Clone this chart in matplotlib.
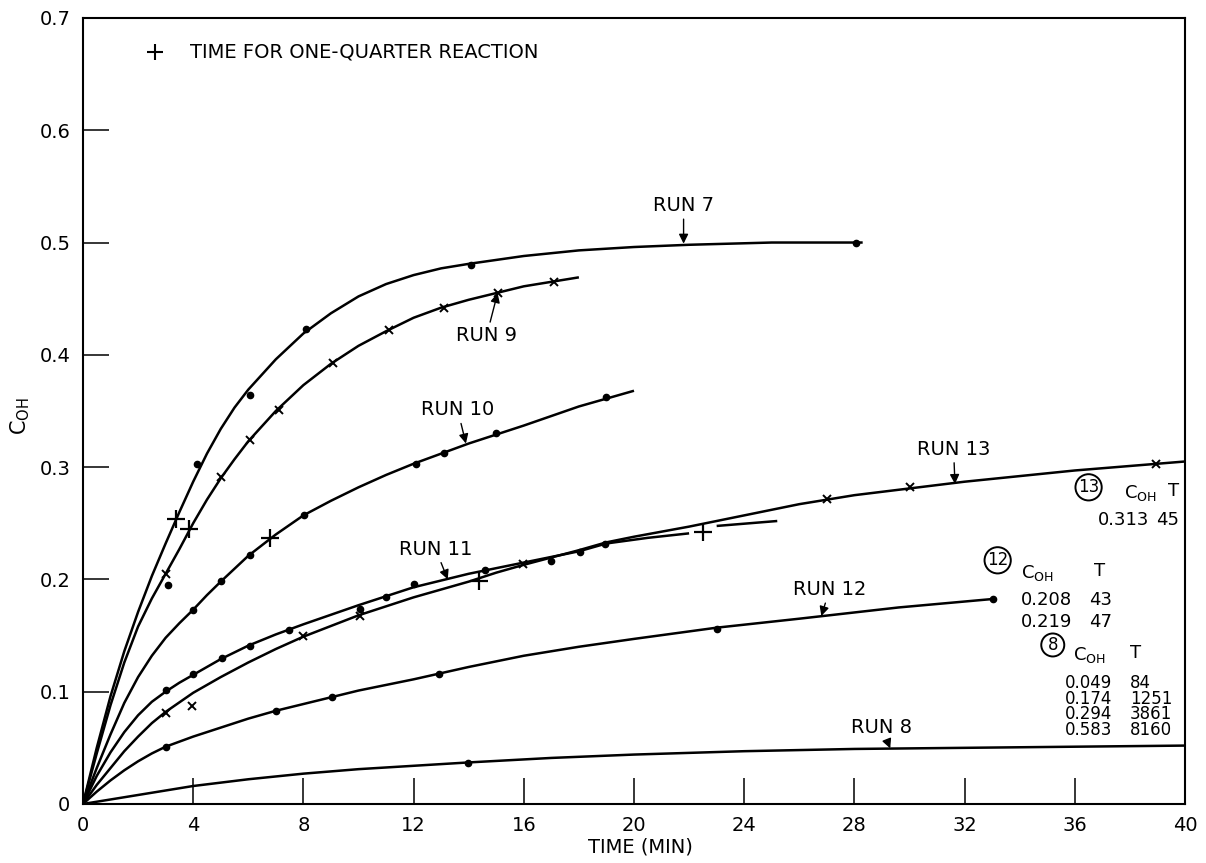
import numpy as np
import matplotlib.pyplot as plt

# curves (time in min, C_OH)
run7_x = [0, 0.5, 1, 1.5, 2, 2.5, 3, 3.5, 4, 4.5, 5, 5.5, 6, 7, 8, 9, 10, 11, 12, 13, 14, 16, 18, 20, 22, 25, 28.3]
run7_y = [0, 0.050, 0.096, 0.136, 0.171, 0.203, 0.232, 0.260, 0.287, 0.312, 0.334, 0.353, 0.369, 0.396, 0.419, 0.437,
          0.452, 0.463, 0.471, 0.477, 0.481, 0.488, 0.493, 0.496, 0.498, 0.500, 0.500]
run9_x = [0, 0.5, 1, 1.5, 2, 2.5, 3, 3.5, 4, 4.5, 5, 5.5, 6, 7, 8, 9, 10, 11, 12, 13, 14, 15, 16, 17, 18]
run9_y = [0, 0.045, 0.088, 0.126, 0.158, 0.183, 0.205, 0.227, 0.250, 0.271, 0.290, 0.307, 0.323, 0.350, 0.373,
          0.392, 0.408, 0.421, 0.433, 0.442, 0.449, 0.455, 0.461, 0.465, 0.469]
run10_x = [0, 0.5, 1, 1.5, 2, 2.5, 3, 3.5, 4, 4.5, 5, 6, 7, 8, 9, 10, 11, 12, 14, 16, 18, 20]
run10_y = [0, 0.032, 0.062, 0.090, 0.113, 0.132, 0.148, 0.161, 0.173, 0.186, 0.198, 0.221, 0.240, 0.257, 0.270,
           0.282, 0.293, 0.303, 0.321, 0.337, 0.354, 0.368]
run11_x = [0, 0.5, 1, 1.5, 2, 2.5, 3, 3.5, 4, 5, 6, 7, 8, 10, 12, 14, 16, 18, 19]
run11_y = [0, 0.025, 0.046, 0.064, 0.079, 0.091, 0.100, 0.108, 0.115, 0.129, 0.141, 0.151, 0.160, 0.177, 0.193,
           0.205, 0.215, 0.225, 0.232]
run11_ext_x = [19, 20.5, 22.0, np.nan, 23.0, 25.2]
run11_ext_y = [0.232, 0.237, 0.241, np.nan, 0.2476, 0.252]
run13_x = [0, 0.5, 1, 1.5, 2, 2.5, 3, 4, 5, 6, 7, 8, 10, 12, 14, 15, 16, 18, 19, 20, 22, 24, 26, 28, 30, 32, 34,
           36, 38, 40]
run13_y = [0, 0.017, 0.032, 0.047, 0.060, 0.072, 0.082, 0.099, 0.113, 0.126, 0.138, 0.149, 0.168, 0.184, 0.198,
           0.206, 0.213, 0.226, 0.233, 0.238, 0.247, 0.257, 0.267, 0.275, 0.281, 0.287, 0.292, 0.297, 0.301, 0.305]
run12_x = [0, 0.5, 1, 1.5, 2, 2.5, 3, 4, 5, 6, 7, 8, 10, 12, 14, 16, 18, 20, 23, 26, 29.6, 33]
run12_y = [0, 0.011, 0.021, 0.030, 0.038, 0.045, 0.051, 0.060, 0.068, 0.076, 0.083, 0.089, 0.101, 0.111, 0.122,
           0.132, 0.140, 0.147, 0.157, 0.165, 0.175, 0.1825]
run8_x = [0, 2, 4, 6, 8, 10, 12, 14, 17, 20, 24, 28, 32, 36, 40]
run8_y = [0, 0.008, 0.016, 0.022, 0.027, 0.031, 0.034, 0.037, 0.041, 0.044, 0.047, 0.049, 0.050, 0.051, 0.052]

# measured points
run7_px = [3.07, 4.14, 6.07, 8.1, 14.08, 28.05]
run7_py = [0.195, 0.303, 0.364, 0.423, 0.480, 0.4993]
run9_px = [3.02, 5.02, 6.05, 7.1, 9.07, 11.1, 13.1, 15.05, 17.08]
run9_py = [0.205, 0.291, 0.324, 0.351, 0.393, 0.422, 0.442, 0.455, 0.465]
run10_px = [4.0, 5.02, 6.05, 8.04, 12.07, 13.1, 15.0, 19.0]
run10_py = [0.173, 0.1986, 0.222, 0.257, 0.303, 0.313, 0.330, 0.362]
run11_px = [3.03, 4.0, 5.05, 6.07, 7.46, 10.04, 11.0, 12.0, 14.6, 17.0, 18.04, 18.95]
run11_py = [0.1015, 0.1155, 0.130, 0.141, 0.155, 0.174, 0.184, 0.196, 0.208, 0.2164, 0.224, 0.2315]
run13_px = [3.0, 3.97, 7.98, 10.04, 15.98, 27.0, 30.0, 38.96]
run13_py = [0.0808, 0.087, 0.150, 0.1676, 0.2137, 0.2716, 0.282, 0.303]
run12_px = [3.0, 6.99, 9.03, 12.93, 23.0, 33.04]
run12_py = [0.051, 0.0828, 0.095, 0.1155, 0.1558, 0.1825]
run8_px = [13.96]
run8_py = [0.0362]

# time for one-quarter reaction
quarter_x = [3.39, 3.85, 6.8, 14.38, 22.5]
quarter_y = [0.254, 0.245, 0.2365, 0.199, 0.2425]

# run labels: (text, text x, text y, arrow tip x, arrow tip y)
run_labels = [
    ('RUN 7', 21.8, 0.533, 21.8, 0.499),
    ('RUN 9', 14.65, 0.417, 15.05, 0.455),
    ('RUN 10', 13.6, 0.351, 13.9, 0.321),
    ('RUN 11', 12.8, 0.227, 13.24, 0.200),
    ('RUN 12', 27.1, 0.191, 26.8, 0.1674),
    ('RUN 13', 31.6, 0.316, 31.65, 0.285),
    ('RUN 8', 29.0, 0.068, 29.3, 0.0495),
]

# long-time values
run13_tab_c = ['0.313']
run13_tab_t = ['45']
run12_tab_c = ['0.208', '0.219']
run12_tab_t = ['43', '47']
run8_tab_c = ['0.049', '0.174', '0.294', '0.583']
run8_tab_t = ['84', '1251', '3861', '8160']

x_ticks = [0, 4, 8, 12, 16, 20, 24, 28, 32, 36, 40]
y_ticks = [0, 0.1, 0.2, 0.3, 0.4, 0.5, 0.6, 0.7]
y_tick_labels = ['0', '0.1', '0.2', '0.3', '0.4', '0.5', '0.6', '0.7']

plt.rcParams['font.family'] = ['DejaVu Sans']

fig = plt.figure(figsize=(12.06, 8.63), dpi=100)
ax = fig.add_axes([0.0688, 0.0684, 0.9138, 0.9108])

lw = 1.8
for xs, ys in [(run7_x, run7_y), (run9_x, run9_y), (run10_x, run10_y), (run11_x, run11_y),
               (run11_ext_x, run11_ext_y), (run13_x, run13_y), (run12_x, run12_y), (run8_x, run8_y)]:
    ax.plot(xs, ys, color='black', lw=lw, solid_capstyle='butt', solid_joinstyle='round')

for xs, ys in [(run7_px, run7_py), (run10_px, run10_py), (run11_px, run11_py),
               (run12_px, run12_py), (run8_px, run8_py)]:
    ax.plot(xs, ys, 'o', color='black', ms=4.5, ls='none')
for xs, ys in [(run9_px, run9_py), (run13_px, run13_py)]:
    ax.plot(xs, ys, 'x', color='black', ms=5.5, mew=1.4, ls='none')
ax.plot(quarter_x, quarter_y, '+', color='black', ms=13, mew=1.6, ls='none')

# key
ax.plot([2.6], [0.67], '+', color='black', ms=12, mew=1.5)
ax.text(3.9, 0.67, 'TIME FOR ONE-QUARTER REACTION', fontsize=14, va='center', ha='left')

for txt, tx, ty, px, py in run_labels:
    ax.annotate(txt, xy=(px, py), xytext=(tx, ty), fontsize=14, ha='center', va='center',
                arrowprops=dict(arrowstyle='-|>', color='black', lw=1.0, mutation_scale=14,
                                shrinkA=1, shrinkB=0))

# tables of long-time values
circ = dict(boxstyle='circle,pad=0.15', fc='white', ec='black', lw=1.4)
coh = r'C$_{\mathrm{OH}}$'

ax.text(36.5, 0.282, '13', fontsize=12, ha='center', va='center', bbox=circ)
ax.text(37.8, 0.2765, coh, fontsize=13, ha='left', va='center')
ax.text(39.6, 0.2785, 'T', fontsize=13, ha='center', va='center')
for i, (c, t) in enumerate(zip(run13_tab_c, run13_tab_t)):
    ax.text(36.85, 0.253 - i * 0.019, c, fontsize=13, ha='left', va='center')
    ax.text(38.95, 0.253 - i * 0.019, t, fontsize=13, ha='left', va='center')

ax.text(33.2, 0.217, '12', fontsize=12, ha='center', va='center', bbox=circ)
ax.text(34.05, 0.2057, coh, fontsize=13, ha='left', va='center')
ax.text(36.9, 0.2077, 'T', fontsize=13, ha='center', va='center')
for i, (c, t) in enumerate(zip(run12_tab_c, run12_tab_t)):
    ax.text(34.05, 0.1817 - i * 0.0193, c, fontsize=13, ha='left', va='center')
    ax.text(36.5, 0.1817 - i * 0.0193, t, fontsize=13, ha='left', va='center')

ax.text(35.2, 0.1416, '8', fontsize=12, ha='center', va='center', bbox=circ)
ax.text(35.95, 0.1327, coh, fontsize=13, ha='left', va='center')
ax.text(38.2, 0.1347, 'T', fontsize=13, ha='center', va='center')
for i, (c, t) in enumerate(zip(run8_tab_c, run8_tab_t)):
    ax.text(35.64, 0.1075 - i * 0.0139, c, fontsize=12, ha='left', va='center')
    ax.text(37.99, 0.1075 - i * 0.0139, t, fontsize=12, ha='left', va='center')

ax.set_xlim(0, 40)
ax.set_ylim(0, 0.7)
ax.set_xticks(x_ticks)
ax.set_xticklabels([str(v) for v in x_ticks])
ax.set_yticks(y_ticks)
ax.set_yticklabels(y_tick_labels)
ax.tick_params(direction='in', length=19, width=1.1, labelsize=14, pad=9)
for s in ax.spines.values():
    s.set_linewidth(1.5)

ax.text(-0.057, 0.493, coh, transform=ax.transAxes, rotation=90, fontsize=15, ha='center', va='center')
fig.text(0.531, 0.007, 'TIME (MIN)', fontsize=14, ha='center', va='bottom')

fig.savefig('out.png', dpi=100)
